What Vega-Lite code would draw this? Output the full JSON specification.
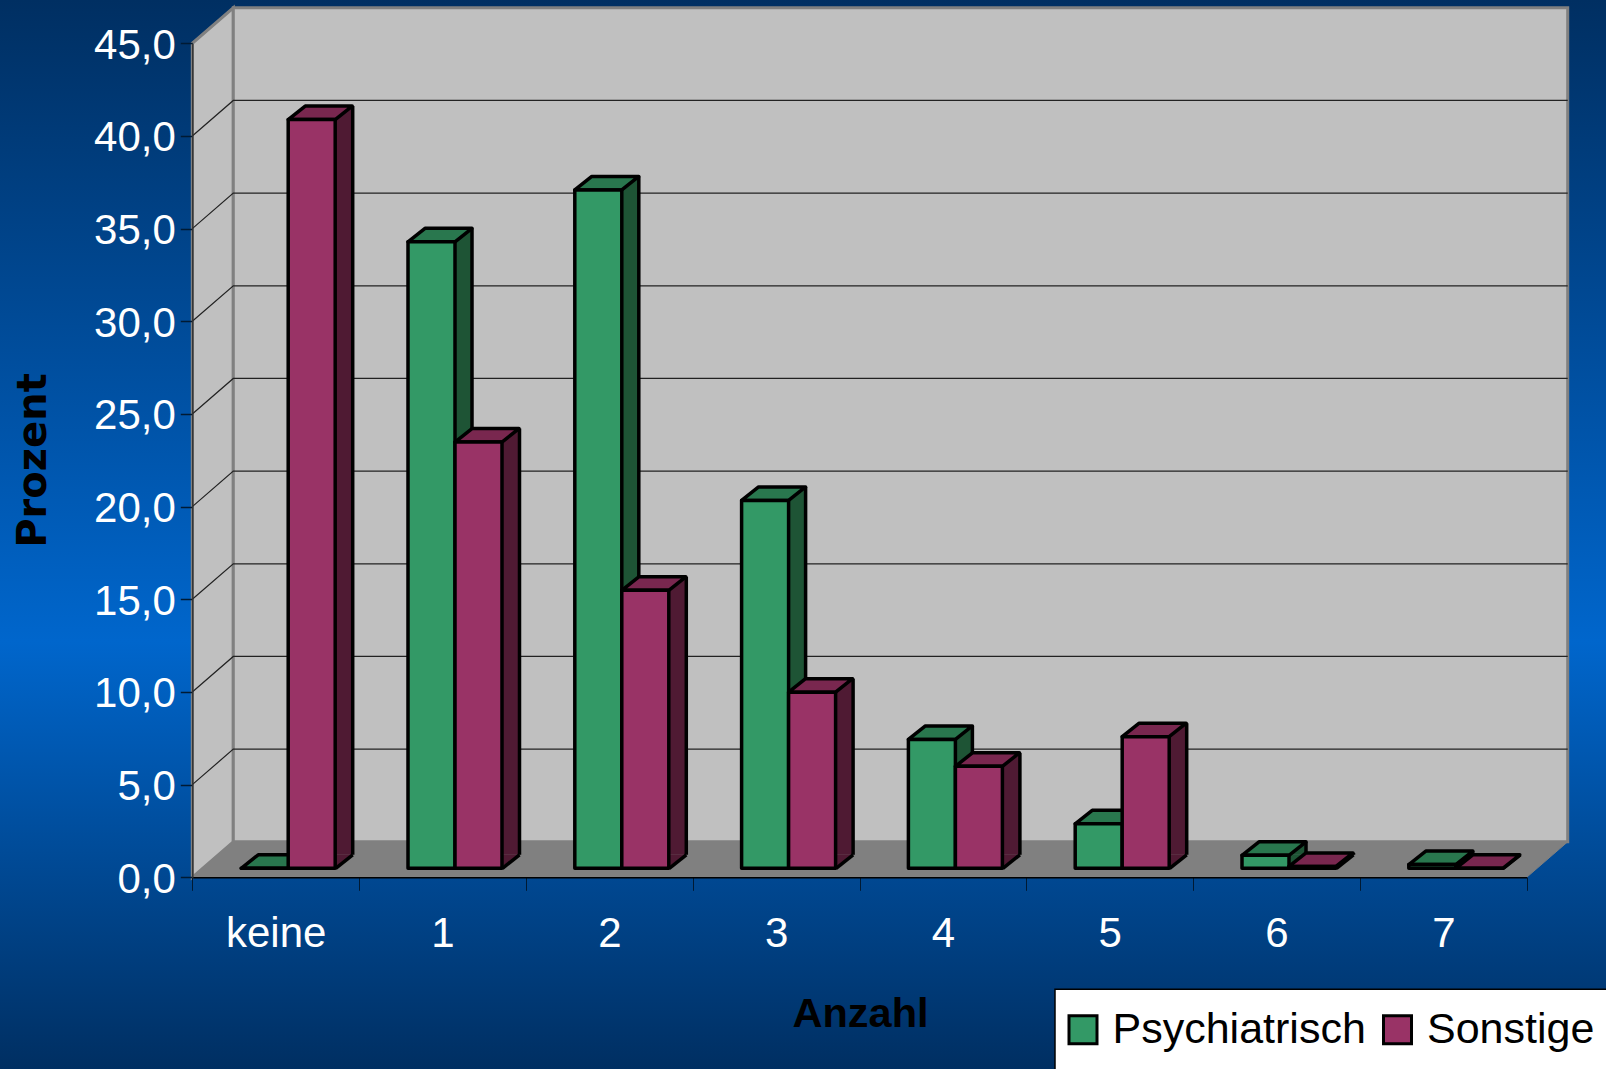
{"$schema":"https://vega.github.io/schema/vega-lite/v6.json","width":1606,"height":1069,"autosize":{"type":"none"},"padding":0,"view":{"stroke":null,"fill":{"gradient":"linear","x1":0,"y1":0,"x2":0,"y2":1,"stops":[{"offset":0,"color":"#002f62"},{"offset":0.6,"color":"#0066cc"},{"offset":1,"color":"#002f62"}]}},"config":{"font":"Liberation Sans"},"datasets":{"bars":[{"anzahl":"keine","serie":"Psychiatrisch","prozent":0},{"anzahl":"keine","serie":"Sonstige","prozent":40.4},{"anzahl":"1","serie":"Psychiatrisch","prozent":33.8},{"anzahl":"1","serie":"Sonstige","prozent":23.0},{"anzahl":"2","serie":"Psychiatrisch","prozent":36.6},{"anzahl":"2","serie":"Sonstige","prozent":15.0},{"anzahl":"3","serie":"Psychiatrisch","prozent":19.85},{"anzahl":"3","serie":"Sonstige","prozent":9.5},{"anzahl":"4","serie":"Psychiatrisch","prozent":6.95},{"anzahl":"4","serie":"Sonstige","prozent":5.5},{"anzahl":"5","serie":"Psychiatrisch","prozent":2.4},{"anzahl":"5","serie":"Sonstige","prozent":7.1},{"anzahl":"6","serie":"Psychiatrisch","prozent":0.7},{"anzahl":"6","serie":"Sonstige","prozent":0.1},{"anzahl":"7","serie":"Psychiatrisch","prozent":0.2},{"anzahl":"7","serie":"Sonstige","prozent":0.0}],"grid":[{"tick":5},{"tick":10},{"tick":15},{"tick":20},{"tick":25},{"tick":30},{"tick":35},{"tick":40}],"one":[{"boden":0}]},"data":{"name":"bars"},"encoding":{"x":{"field":"anzahl","type":"nominal","sort":null,"scale":{"type":"band","domain":["keine","1","2","3","4","5","6","7"],"range":[192.3,1526.7],"paddingInner":0,"paddingOuter":0},"axis":{"orient":"bottom","offset":-191.7,"zindex":1,"title":"Anzahl","titleFontSize":41.5,"titleFont":"Liberation Sans","titleFontWeight":"bold","titleColor":"#000000","titleX":860,"titleY":149.5,"titleBaseline":"alphabetic","titleAlign":"center","titleAnchor":null,"labelAngle":0,"labelFontSize":42,"labelColor":"#ffffff","labelBaseline":"alphabetic","labelPadding":56,"tickBand":"extent","tickSize":13,"tickColor":"#001a33","tickWidth":1,"domainColor":"#000000","domainWidth":1.5,"grid":false}},"y":{"field":"prozent","type":"quantitative","stack":null,"scale":{"domain":[0,45],"range":[877.3,43.3],"nice":false,"zero":false},"axis":{"orient":"left","offset":-192.3,"zindex":1,"values":[0,5,10,15,20,25,30,35,40,45],"labelExpr":"replace(format(datum.value,'.1f'),'.',',')","title":"Prozent","titleFont":"DejaVu Sans","titleFontSize":40,"titleFontWeight":"bold","titleColor":"#000000","titleAngle":270,"titleX":-147,"titleY":460,"titleBaseline":"alphabetic","titleAlign":"center","titleAnchor":null,"labelFontSize":42,"labelOffset":2,"labelColor":"#ffffff","labelPadding":5,"tickSize":12,"tickColor":"#001a33","tickWidth":1.5,"domainColor":"#333333","domainWidth":1.5,"grid":false}}},"layer":[{"data":{"name":"one"},"mark":{"type":"point","shape":"M0,0 L41,-35.5 L41,-869.5 L0,-834 Z","size":4,"filled":true,"fill":"#c0c0c0","stroke":"#808080","strokeWidth":3,"opacity":1},"encoding":{"x":{"datum":"keine","type":"nominal","bandPosition":0,"scale":{"type":"band"}},"y":{"field":"boden","type":"quantitative"}}},{"data":{"name":"one"},"mark":{"type":"point","shape":"M41,-35.5 L1375.4,-35.5 L1375.4,-869.5 L41,-869.5 Z","size":4,"filled":true,"fill":"#c0c0c0","stroke":"#808080","strokeWidth":3,"opacity":1},"encoding":{"x":{"datum":"keine","type":"nominal","bandPosition":0,"scale":{"type":"band"}},"y":{"field":"boden","type":"quantitative"}}},{"data":{"name":"one"},"mark":{"type":"point","shape":"M0,0 L41,-35.5 L1375.4,-35.5 L1334.4,0 Z","size":4,"filled":true,"fill":"#808080","stroke":"#808080","strokeWidth":1,"opacity":1},"encoding":{"x":{"datum":"keine","type":"nominal","bandPosition":0,"scale":{"type":"band"}},"y":{"field":"boden","type":"quantitative"}}},{"data":{"name":"grid"},"mark":{"type":"point","shape":"M0,0 L41,-35.5 L1375.4,-35.5","size":4,"filled":false,"fill":null,"stroke":"#222222","strokeWidth":1.2,"opacity":1},"encoding":{"x":{"datum":"keine","type":"nominal","bandPosition":0,"scale":{"type":"band"}},"y":{"field":"tick","type":"quantitative"}}},{"transform":[{"filter":"datum.serie === 'Psychiatrisch'"}],"layer":[{"mark":{"type":"bar","width":17,"xOffset":21.5,"yOffset":-22.5,"y2Offset":-22.5,"fill":"#1e5435","stroke":null},"encoding":{"y2":{"datum":0}}},{"mark":{"type":"point","shape":"M0,0 L17,-13.5 L0,-13.5 Z","size":4,"filled":true,"fill":"#1e5435","stroke":null,"xOffset":12.5,"yOffset":-9,"opacity":1},"encoding":{"y":{"datum":0,"type":"quantitative"}}},{"mark":{"type":"rule","xOffset":29.5,"yOffset":-22.5,"y2Offset":-22.5,"stroke":"#000000","strokeWidth":3.5},"encoding":{"y2":{"datum":0}}},{"mark":{"type":"point","shape":"M0,0 L17,-13.5","size":4,"filled":false,"fill":null,"stroke":"#000000","strokeWidth":3.5,"xOffset":12.5,"yOffset":-9,"opacity":1},"encoding":{"y":{"datum":0,"type":"quantitative"}}},{"mark":{"type":"point","shape":"M-23.5,0 L-6.5,-13.5 L40.5,-13.5 L23.5,0 Z","size":4,"filled":true,"fill":"#29774e","stroke":"#000000","strokeWidth":3.5,"strokeJoin":"round","xOffset":-11,"yOffset":-9,"opacity":1}},{"mark":{"type":"bar","width":47,"xOffset":-11,"yOffset":-9,"y2Offset":-9,"stroke":"#000000","strokeWidth":3.5,"strokeJoin":"round"},"encoding":{"y2":{"datum":0},"color":{"field":"serie","type":"nominal","scale":{"domain":["Psychiatrisch","Sonstige"],"range":["#339966","#993366"]},"legend":{"title":null,"orient":"none","legendX":1061.5,"legendY":1008,"direction":"horizontal","columns":2,"padding":0,"symbolType":"square","symbolSize":784,"symbolStrokeColor":"#000000","symbolStrokeWidth":3,"symbolOpacity":1,"labelFontSize":43,"labelColor":"#000000","labelOffset":8,"columnPadding":9.5,"labelLimit":400}}}}]},{"transform":[{"filter":"datum.serie === 'Sonstige'"}],"layer":[{"mark":{"type":"bar","width":17,"xOffset":68.5,"yOffset":-22.5,"y2Offset":-22.5,"fill":"#4f1a33","stroke":null},"encoding":{"y2":{"datum":0}}},{"mark":{"type":"point","shape":"M0,0 L17,-13.5 L0,-13.5 Z","size":4,"filled":true,"fill":"#4f1a33","stroke":null,"xOffset":60,"yOffset":-9,"opacity":1},"encoding":{"y":{"datum":0,"type":"quantitative"}}},{"mark":{"type":"rule","xOffset":77,"yOffset":-22.5,"y2Offset":-22.5,"stroke":"#000000","strokeWidth":3.5},"encoding":{"y2":{"datum":0}}},{"mark":{"type":"point","shape":"M0,0 L17,-13.5","size":4,"filled":false,"fill":null,"stroke":"#000000","strokeWidth":3.5,"xOffset":60,"yOffset":-9,"opacity":1},"encoding":{"y":{"datum":0,"type":"quantitative"}}},{"mark":{"type":"point","shape":"M-23.5,0 L-6.5,-13.5 L40.5,-13.5 L23.5,0 Z","size":4,"filled":true,"fill":"#79274f","stroke":"#000000","strokeWidth":3.5,"strokeJoin":"round","xOffset":36,"yOffset":-9,"opacity":1}},{"mark":{"type":"bar","width":47,"xOffset":36,"yOffset":-9,"y2Offset":-9,"stroke":"#000000","strokeWidth":3.5,"strokeJoin":"round"},"encoding":{"y2":{"datum":0},"color":{"field":"serie","type":"nominal"}}}]},{"data":{"name":"one"},"mark":{"type":"point","shape":"M-471.7,112 L90,112 L90,200 L-471.7,200 Z","size":4,"filled":true,"fill":"#ffffff","stroke":"#000000","strokeWidth":1.5,"opacity":1},"encoding":{"x":{"datum":"7","type":"nominal","bandPosition":1,"scale":{"type":"band"}},"y":{"field":"boden","type":"quantitative"}}}]}
